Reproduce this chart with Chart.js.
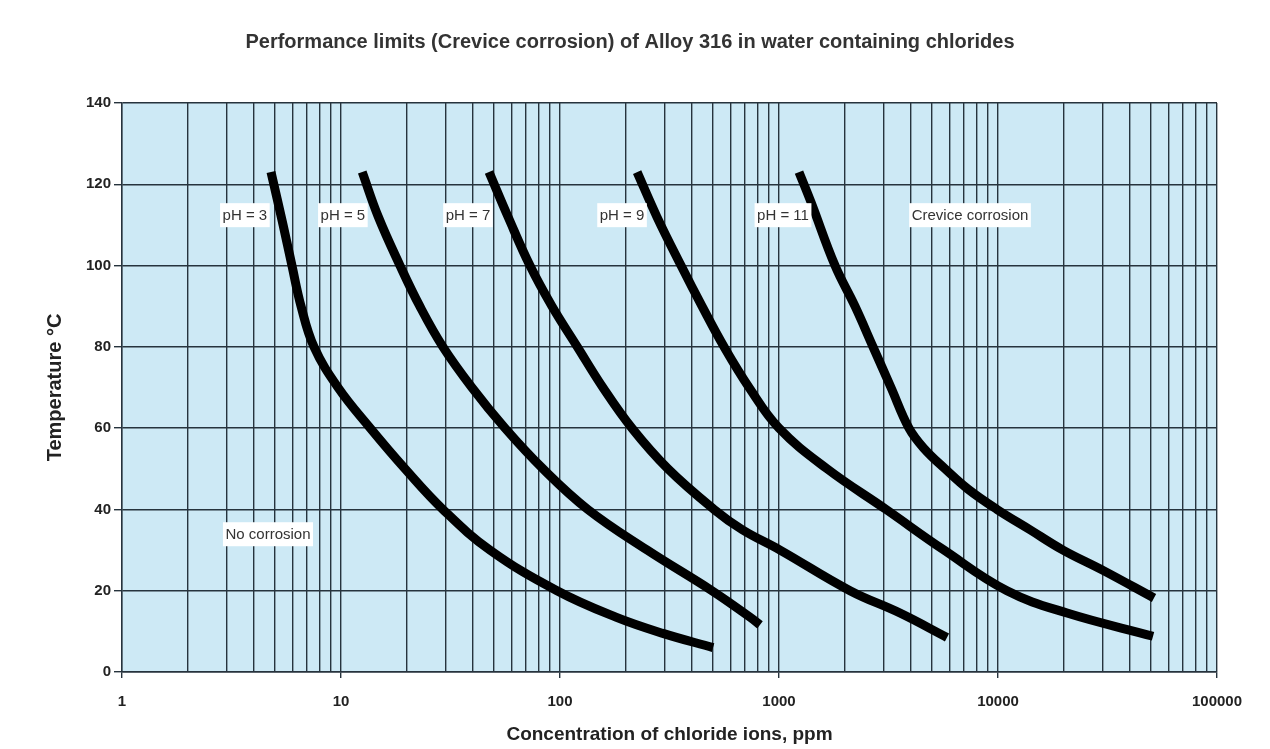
<!DOCTYPE html>
<html>
<head>
    <title>Performance limits (Crevice corrosion) of Alloy 316</title>
    <script src="https://cdn.jsdelivr.net/npm/chart.js"></script>
    <style>
        body { margin: 0; background: #ffffff; }
        #wrap { width: 1270px; height: 749px; }
    </style>
</head>
<body>
    <div id="wrap"><canvas id="grafico"></canvas></div>

    <script>
        // chloride ppm (x) / temperature °C (y)
        const ph3X = [4.79, 5.44, 5.97, 6.57, 7.53, 9.69, 13.6, 19.6, 29.2, 47.9, 96.9, 180, 295, 500];
        const ph3Y = [123, 110, 100, 90, 80, 70, 60, 50, 40, 30, 20, 13.5, 9.5, 6];

        const ph5X = [12.5, 14.8, 18.6, 22.9, 29.2, 39.6, 56.1, 83.6, 134, 250, 494, 737, 819];
        const ph5Y = [123, 112, 100, 90, 80, 70, 60, 50, 40, 30, 20, 13.5, 11.6];

        const ph7X = [47.4, 57.9, 72.9, 91.9, 120, 157, 213, 311, 505, 680, 1011, 2110, 3568, 5850];
        const ph7Y = [123, 112, 100, 90, 80, 70, 60, 50, 40, 35, 30, 20, 14.5, 8.5];

        const ph9X = [225, 277, 357, 445, 561, 730, 1000, 1657, 3081, 5667, 10990, 20660, 51040];
        const ph9Y = [123, 112, 100, 90, 80, 70, 60, 50, 40, 30, 20, 14.5, 8.8];

        const ph11X = [1234, 1400, 1802, 2223, 2687, 3246, 3922, 4594, 5728, 7295, 9895, 14000, 19810, 30160, 51560];
        const ph11Y = [123, 115.6, 100, 90, 80, 70, 60, 55, 50, 45, 40, 35, 30, 25, 18.2];

        const yTicks = [0, 20, 40, 60, 80, 100, 120, 140];
        const xMajor = [1, 10, 100, 1000, 10000, 100000];

        const labelText = ['pH = 3', 'pH = 5', 'pH = 7', 'pH = 9', 'pH = 11', 'Crevice corrosion', 'No corrosion'];
        const labelX = [3.64, 10.2, 38.0, 192, 1043, 7450, 4.64];
        const labelY = [112.4, 112.4, 112.4, 112.4, 112.4, 112.4, 33.9];

        const fonte = '"Liberation Sans", Arial, sans-serif';

        function punkte(xs, ys) {
            return xs.map((x, i) => ({ x: x, y: ys[i] }));
        }

        function serie(nome, xs, ys) {
            return {
                label: nome,
                data: punkte(xs, ys),
                borderColor: '#000000',
                borderWidth: 9,
                borderCapStyle: 'butt',
                pointRadius: 0,
                tension: 0.4,
                fill: false
            };
        }

        // fundo azul da área do gráfico
        const fundo = {
            id: 'fundo',
            beforeDraw(chart) {
                const a = chart.chartArea;
                const c = chart.ctx;
                c.save();
                c.fillStyle = '#cde9f5';
                c.fillRect(a.left, a.top, a.right - a.left, a.bottom - a.top);
                c.restore();
            }
        };

        // caixas de texto brancas dentro do gráfico
        const rotulos = {
            id: 'rotulos',
            afterDatasetsDraw(chart) {
                const c = chart.ctx;
                const sx = chart.scales.x;
                const sy = chart.scales.y;
                c.save();
                c.font = '15px ' + fonte;
                c.textAlign = 'center';
                c.textBaseline = 'middle';
                labelText.forEach((t, i) => {
                    const px = sx.getPixelForValue(labelX[i]);
                    const py = sy.getPixelForValue(labelY[i]);
                    const w = c.measureText(t).width + 5;
                    c.fillStyle = '#ffffff';
                    c.fillRect(px - w / 2, py - 12, w, 24);
                    c.fillStyle = '#333333';
                    c.fillText(t, px, py + 0.5);
                });
                c.restore();
            }
        };

        const ctx = document.getElementById('grafico').getContext('2d');
        const grafico = new Chart(ctx, {
            type: 'line',
            data: {
                datasets: [
                    serie('pH = 3', ph3X, ph3Y),
                    serie('pH = 5', ph5X, ph5Y),
                    serie('pH = 7', ph7X, ph7Y),
                    serie('pH = 9', ph9X, ph9Y),
                    serie('pH = 11', ph11X, ph11Y)
                ]
            },
            options: {
                responsive: true,
                maintainAspectRatio: false,
                animation: false,
                layout: { padding: { left: 43, right: 53, top: 0, bottom: 0 } },
                plugins: {
                    legend: { display: false },
                    tooltip: { enabled: false },
                    title: {
                        display: true,
                        text: 'Performance limits (Crevice corrosion) of Alloy 316 in water containing chlorides',
                        color: '#333333',
                        font: { family: fonte, size: 20, weight: 'bold' },
                        padding: { top: 30, bottom: 49 }
                    }
                },
                scales: {
                    x: {
                        type: 'logarithmic',
                        min: 1,
                        max: 100000,
                        afterBuildTicks(scale) {
                            const t = [];
                            for (let k = 0; k < 5; k++) {
                                for (let m = 1; m < 10; m++) t.push({ value: m * Math.pow(10, k) });
                            }
                            t.push({ value: 100000 });
                            scale.ticks = t;
                        },
                        afterFit(scale) { scale.height = 77; },
                        ticks: {
                            autoSkip: false,
                            maxRotation: 0,
                            padding: 15,
                            color: '#222222',
                            font: { family: fonte, size: 15, weight: 'bold' },
                            callback: (v) => xMajor.includes(v) ? String(v) : ''
                        },
                        grid: {
                            color: '#26333d',
                            lineWidth: 1.4,
                            tickLength: 6,
                            tickColor: (c) => (c.tick && xMajor.includes(c.tick.value)) ? '#26333d' : 'rgba(0,0,0,0)'
                        },
                        border: { color: '#26333d', width: 1.4 },
                        title: {
                            display: true,
                            text: 'Concentration of chloride ions, ppm',
                            color: '#222222',
                            font: { family: fonte, size: 19, weight: 'bold' },
                            padding: { top: 0, bottom: 3 }
                        }
                    },
                    y: {
                        min: 0,
                        max: 140,
                        afterBuildTicks(scale) {
                            scale.ticks = yTicks.map(v => ({ value: v }));
                        },
                        afterFit(scale) { scale.width = 79; },
                        ticks: {
                            padding: 3,
                            color: '#222222',
                            font: { family: fonte, size: 15, weight: 'bold' }
                        },
                        grid: {
                            color: '#26333d',
                            lineWidth: 1.4,
                            tickLength: 8
                        },
                        border: { color: '#26333d', width: 1.4 },
                        title: {
                            display: true,
                            text: 'Temperature °C',
                            color: '#222222',
                            font: { family: fonte, size: 20, weight: 'bold' },
                            padding: { top: 0, bottom: 0 }
                        }
                    }
                }
            },
            plugins: [fundo, rotulos]
        });
    </script>
</body>
</html>
